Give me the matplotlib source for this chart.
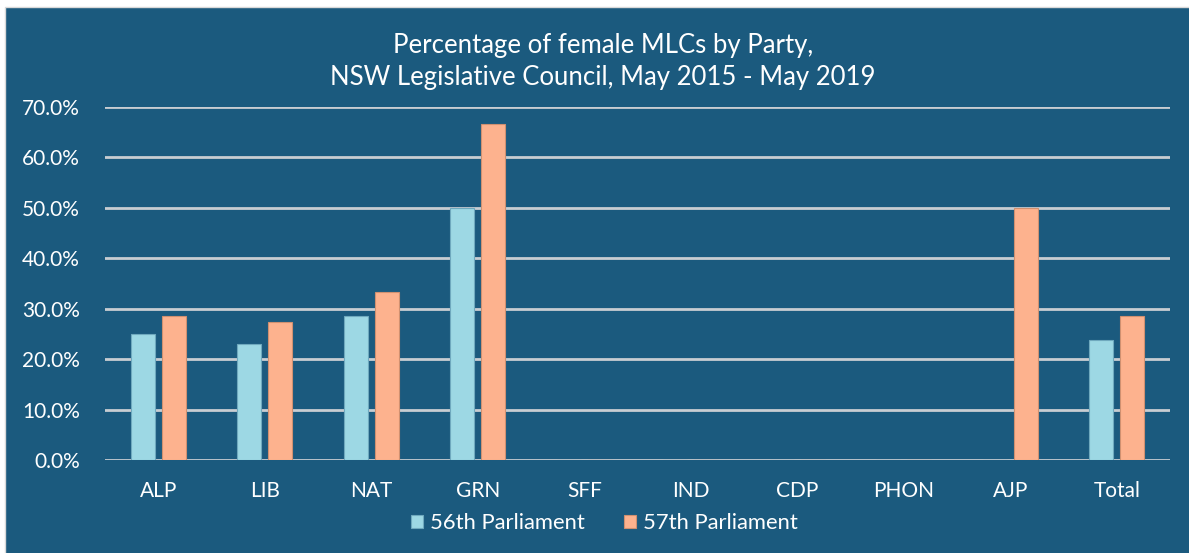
import numpy as np
import matplotlib
matplotlib.use("Agg")
from matplotlib import pyplot as plt
from matplotlib.patches import Rectangle
from matplotlib.ticker import FuncFormatter

# data
parties = ["ALP", "LIB", "NAT", "GRN", "SFF", "IND", "CDP", "PHON", "AJP", "Total"]
parl_56 = [25.0, 23.1, 28.6, 50.0, 0, 0, 0, 0, 0, 23.8]
parl_57 = [28.6, 27.3, 33.3, 66.7, 0, 0, 0, 0, 50.0, 28.6]

plt.rcParams['font.family'] = ['Lato', 'DejaVu Sans']
bg = '#1B5A7E'
c56 = '#9DD8E4'
c57 = '#FDB28E'

fig = plt.figure(figsize=(11.89, 5.53), dpi=100)
fig.patch.set_facecolor('white')
# dark panel, white margin only on the left and top
fig.patches.append(Rectangle((5/1189, -0.1), 1.2, 1.1 - 7/553, transform=fig.transFigure,
                             facecolor=bg, edgecolor='#D9D9D9', lw=1, zorder=-1))

ax = fig.add_axes([105/1189, 93/553, 1065/1189, 353/553])
ax.set_facecolor(bg)

x = np.arange(len(parties))
w = 0.225
ax.bar(x - 0.145, parl_56, w, color=c56, edgecolor='#6FA9BE', lw=0.8, label='56th Parliament', zorder=3)
ax.bar(x + 0.145, parl_57, w, color=c57, edgecolor='#D09070', lw=0.8, label='57th Parliament', zorder=3)

ax.set_xlim(-0.5, len(parties) - 0.5)
ax.set_ylim(0, 70)
ax.set_yticks(np.arange(0, 71, 10))
ax.yaxis.set_major_formatter(FuncFormatter(lambda v, p: f"{v:.1f}%"))
ax.set_xticks(x)
ax.set_xticklabels(parties)
ax.grid(axis='y', color='#C8CDD2', lw=2, zorder=1)
for s in ax.spines.values():
    s.set_visible(False)
ax.tick_params(length=0, colors='white', labelsize=15)
ax.tick_params(axis='y', pad=18)
ax.tick_params(axis='x', pad=15)

fig.text(0.507, 1 - 45/553, "Percentage of female MLCs by Party,", ha='center', va='center',
         color='white', fontsize=18.5)
fig.text(0.507, 1 - 78/553, "NSW Legislative Council, May 2015 - May 2019", ha='center', va='center',
         color='white', fontsize=18.5)

leg = ax.legend(loc='center', bbox_to_anchor=(0.5 - 33/1065, -63/353), ncol=2, frameon=False,
                fontsize=15.8, handlelength=0.55, handleheight=0.55, handletextpad=0.3, columnspacing=1.8,
                labelcolor='white')

fig.savefig('out.png', dpi=100, facecolor=fig.get_facecolor())
